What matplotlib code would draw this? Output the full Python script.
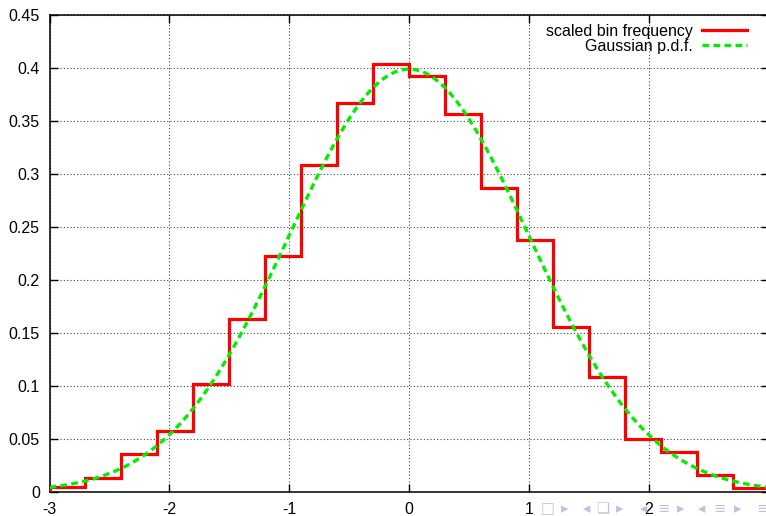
import numpy as np
import matplotlib
matplotlib.use("Agg")
import matplotlib.pyplot as plt

# histogram bin edges and scaled frequencies
bin_edges = [-3.0, -2.7, -2.4, -2.1, -1.8, -1.5, -1.2, -0.9, -0.6, -0.3, 0.0,
             0.3, 0.6, 0.9, 1.2, 1.5, 1.8, 2.1, 2.4, 2.7, 3.0]
bin_freq = [0.0048, 0.0135, 0.0356, 0.058, 0.1016, 0.1635, 0.2227, 0.3082, 0.367, 0.4035,
            0.3928, 0.3566, 0.2872, 0.238, 0.1554, 0.1088, 0.050, 0.0374, 0.0157, 0.0040]

# gaussian p.d.f. parameters
mu = 0.0
sigma = 1.0

x_ticks = [-3, -2, -1, 0, 1, 2, 3]
x_tick_labels = ["-3", "-2", "-1", "0", "1", "2", ""]  # "3" falls off the slide
y_ticks = [0, 0.05, 0.1, 0.15, 0.2, 0.25, 0.3, 0.35, 0.4, 0.45]
y_tick_labels = ["0", "0.05", "0.1", "0.15", "0.2", "0.25", "0.3", "0.35", "0.4", "0.45"]

# beamer navigation symbols in the bottom right corner
nav_symbols = ["\u25a1", "\u25b8", "\u25c2", "\u274f", "\u25b8", "\u25c2",
               "\u2261", "\u25b8", "\u25c2", "\u2261", "\u25b8", "\u2261"]
nav_x_px = [548, 565, 587, 603, 620, 644, 664, 681, 702, 720, 738, 763]

plt.rcParams["font.family"] = ["Liberation Sans", "DejaVu Sans"]

fig = plt.figure(figsize=(7.66, 5.16), dpi=100)
ax = fig.add_axes([49.5 / 766, 24 / 516, 719 / 766, 477 / 516])

xs = np.linspace(-3, 3, 600)
pdf = np.exp(-0.5 * ((xs - mu) / sigma) ** 2) / (sigma * np.sqrt(2 * np.pi))

ax.stairs(bin_freq, bin_edges, color="#ff0000", linewidth=2.3,
          label="scaled bin frequency", zorder=3)
ax.plot(xs, pdf, color="#00ee00", linewidth=2.4, linestyle=(0, (2.0, 1.3)),
        label="Gaussian p.d.f.", zorder=4)

ax.set_xlim(-3, 3)
ax.set_ylim(0, 0.45)
ax.set_xticks(x_ticks)
ax.set_xticklabels(x_tick_labels)
ax.set_yticks(y_ticks)
ax.set_yticklabels(y_tick_labels)
ax.tick_params(direction="in", top=True, right=True, length=6, width=1.0,
               labelsize=11.5, pad=7, colors="black")
ax.grid(True, color="#444444", linestyle=(0, (1, 2)), linewidth=0.8)
for sp in ax.spines.values():
    sp.set_linewidth(1.1)

fig.legend(loc="upper right", bbox_to_anchor=(755 / 766, 1 - 16 / 516),
           frameon=False, markerfirst=False, fontsize=11.5, borderpad=0,
           handlelength=2.8, handletextpad=0.62, labelspacing=0.0)

for sym, xp in zip(nav_symbols, nav_x_px):
    fig.text(xp / 766, 1 - 509 / 516, sym, color="#c0c0e2", fontsize=10.5,
             va="center", ha="center", family=["DejaVu Sans"])

fig.savefig("out.png", dpi=100)
